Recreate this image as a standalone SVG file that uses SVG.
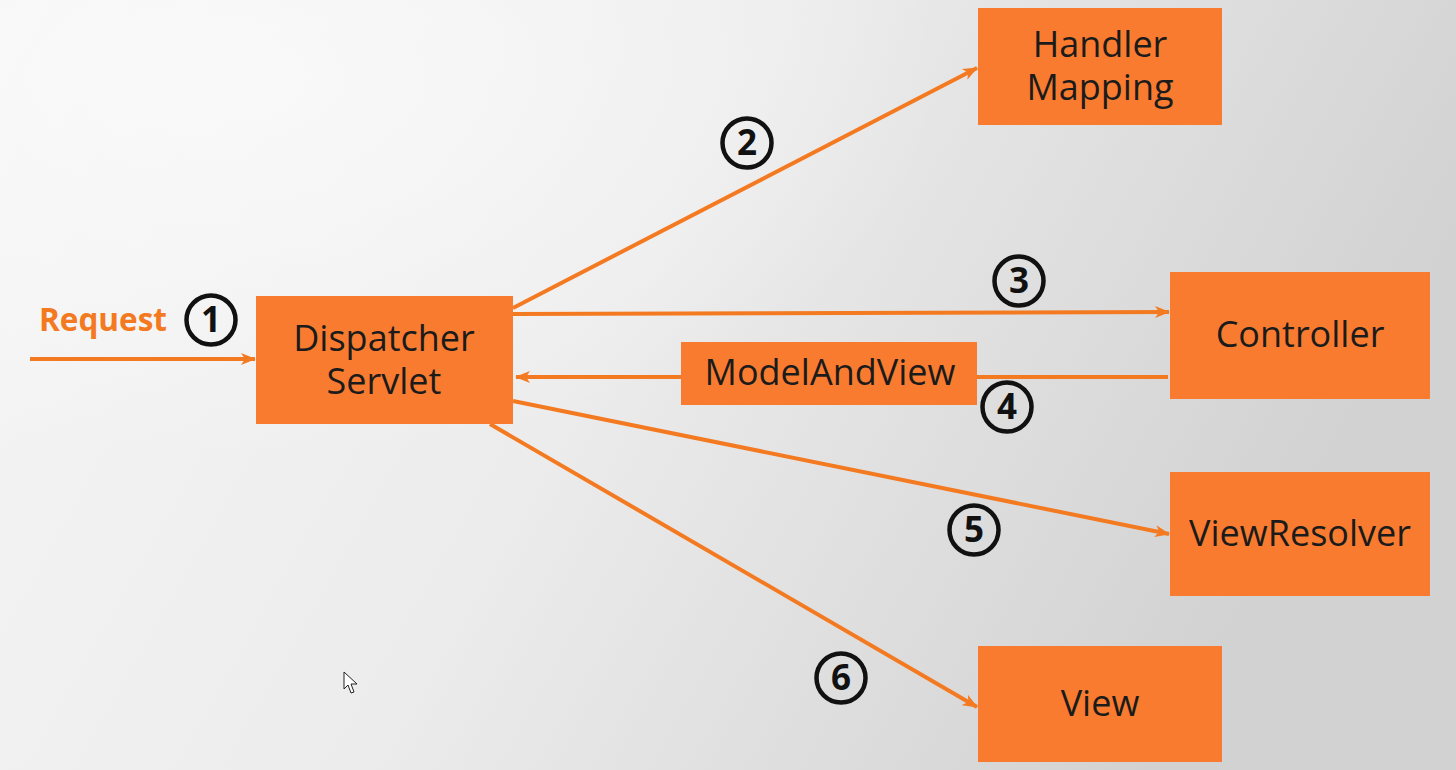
<svg xmlns="http://www.w3.org/2000/svg" width="1456" height="770" viewBox="0 0 1456 770">
<defs>
<linearGradient id="bg" x1="0" y1="0" x2="1" y2="0.3">
<stop offset="0" stop-color="#f6f6f6"/>
<stop offset="0.5" stop-color="#ececec"/>
<stop offset="1" stop-color="#d2d2d2"/>
</linearGradient>
<radialGradient id="glow" cx="0.15" cy="0.1" r="0.5">
<stop offset="0" stop-color="#fafafa" stop-opacity="0.9"/>
<stop offset="1" stop-color="#fafafa" stop-opacity="0"/>
</radialGradient>
<marker id="ah" markerUnits="userSpaceOnUse" markerWidth="16" markerHeight="14" refX="14" refY="7" orient="auto">
<path d="M0,1 L15,7 L0,13 L4,7 Z" fill="#f47a22"/>
</marker>
<style>
.box{fill:#f97b30}
.lbl{font-family:"Open Sans","Noto Sans",sans-serif;font-size:36px;fill:#1b1b1b;text-anchor:middle}
.con{stroke:#f47a22;stroke-width:4;fill:none;marker-end:url(#ah)}
.num circle{fill:none;stroke:#111;stroke-width:4.5}
.num text{font-family:"Open Sans","Noto Sans",sans-serif;font-weight:bold;font-size:35px;fill:#111;text-anchor:middle}
</style>
</defs>
<rect width="1456" height="770" fill="url(#bg)"/>
<rect width="1456" height="770" fill="url(#glow)"/>

<g id="connectors">
<line class="con" x1="30" y1="359" x2="255" y2="359"/>
<line class="con" x1="513" y1="308" x2="977" y2="68"/>
<line class="con" x1="513" y1="314" x2="1169" y2="312"/>
<line class="con" x1="1168" y1="377" x2="516" y2="377"/>
<line class="con" x1="513" y1="401" x2="1169" y2="534"/>
<line class="con" x1="490" y1="424" x2="977" y2="707"/>
</g>

<g id="request">
<text x="103" y="331" style="font-family:'Open Sans','Noto Sans',sans-serif;font-weight:bold;font-size:31.5px;fill:#f47a22;text-anchor:middle">Request</text>
</g>

<g id="dispatcher">
<rect class="box" x="256" y="296" width="257" height="128"/>
<text class="lbl" x="384" y="351"><tspan x="384" y="351">Dispatcher</tspan><tspan x="384" y="394">Servlet</tspan></text>
</g>

<g id="handlermapping">
<rect class="box" x="978" y="8" width="244" height="117"/>
<text class="lbl" x="1100" y="57"><tspan x="1100" y="57">Handler</tspan><tspan x="1100" y="100">Mapping</tspan></text>
</g>

<g id="controller">
<rect class="box" x="1170" y="272" width="260" height="127"/>
<text class="lbl" x="1300" y="347">Controller</text>
</g>

<g id="modelandview">
<rect class="box" x="681" y="342" width="296" height="63"/>
<text class="lbl" x="830" y="385">ModelAndView</text>
</g>

<g id="viewresolver">
<rect class="box" x="1170" y="472" width="260" height="124"/>
<text class="lbl" x="1300" y="546">ViewResolver</text>
</g>

<g id="view">
<rect class="box" x="978" y="646" width="244" height="116"/>
<text class="lbl" x="1100" y="716">View</text>
</g>

<g id="n1" class="num"><circle cx="211" cy="320" r="24.5"/><text x="211" y="332">1</text></g>
<g id="n2" class="num"><circle cx="747" cy="143" r="24.5"/><text x="747" y="155">2</text></g>
<g id="n3" class="num"><circle cx="1019" cy="281" r="24.5"/><text x="1019" y="293">3</text></g>
<g id="n4" class="num"><circle cx="1007" cy="407" r="24.5"/><text x="1007" y="419">4</text></g>
<g id="n5" class="num"><circle cx="974" cy="530" r="24.5"/><text x="974" y="542">5</text></g>
<g id="n6" class="num"><circle cx="841" cy="678" r="24.5"/><text x="841" y="690">6</text></g>

<path d="M344,672 L344,689 L348,685 L351,693 L354,692 L351,684 L357,684 Z" fill="#fff" stroke="#222" stroke-width="1"/>
</svg>
